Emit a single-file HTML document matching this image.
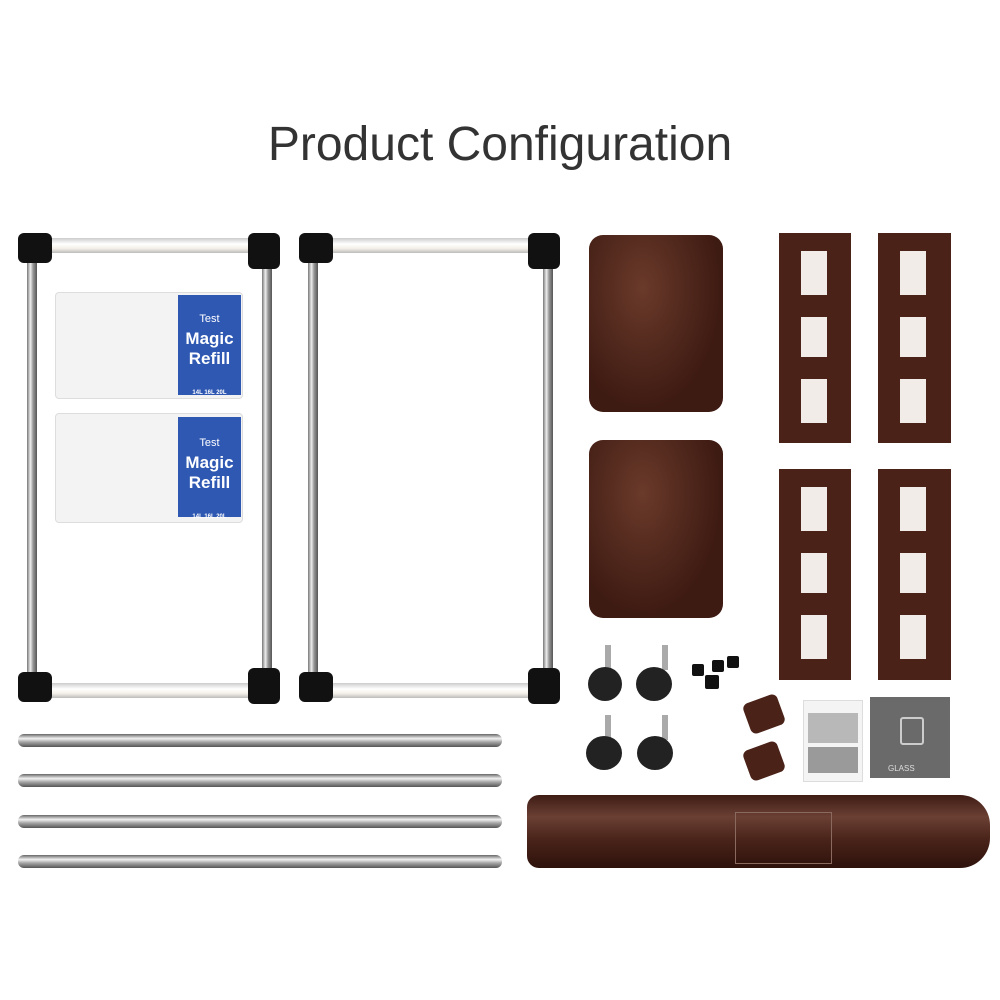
<!DOCTYPE html>
<html><head><meta charset="utf-8"><style>
body{margin:0;width:1000px;height:1000px;background:#fff;position:relative;overflow:hidden;font-family:"Liberation Sans",sans-serif}
.a{position:absolute}
.title{left:0;width:1000px;top:117px;text-align:center;font-size:48px;color:#333}
.vr{background:linear-gradient(90deg,#777,#eee 35%,#999 60%,#555)}
.hr{background:linear-gradient(180deg,#666,#f2f2f2 35%,#aaa 60%,#555);border-radius:6px}
.wt{background:linear-gradient(180deg,#ccc,#fff 40%,#f4f0e8 70%,#bbb)}
.cn{background:#111;border-radius:6px}
.bag{background:#f3f3f3;border:1px solid #ddd;border-radius:4px}
.lbl{background:#2f58b3;color:#fff;text-align:center;font-weight:bold}
.lid{background:radial-gradient(ellipse at 40% 30%,#6a3a2a,#3d1a12 70%);border-radius:14px}
.lad{background:#4a2218}
.hole{background:#fff;position:absolute}
.wh{background:#222;border-radius:50%}
</style></head><body>
<div class="a title">Product Configuration</div>

<div class="a vr" style="left:27px;top:245px;width:10px;height:448px"></div>
<div class="a vr" style="left:262px;top:245px;width:10px;height:448px"></div>
<div class="a wt" style="left:45px;top:238px;width:210px;height:15px"></div>
<div class="a wt" style="left:45px;top:683px;width:210px;height:15px"></div>
<div class="a cn" style="left:18px;top:233px;width:34px;height:30px"></div>
<div class="a cn" style="left:248px;top:233px;width:32px;height:36px"></div>
<div class="a cn" style="left:18px;top:672px;width:34px;height:30px"></div>
<div class="a cn" style="left:248px;top:668px;width:32px;height:36px"></div>
<div class="a vr" style="left:308px;top:245px;width:10px;height:448px"></div>
<div class="a vr" style="left:543px;top:245px;width:10px;height:448px"></div>
<div class="a wt" style="left:326px;top:238px;width:210px;height:15px"></div>
<div class="a wt" style="left:326px;top:683px;width:210px;height:15px"></div>
<div class="a cn" style="left:299px;top:233px;width:34px;height:30px"></div>
<div class="a cn" style="left:528px;top:233px;width:32px;height:36px"></div>
<div class="a cn" style="left:299px;top:672px;width:34px;height:30px"></div>
<div class="a cn" style="left:528px;top:668px;width:32px;height:36px"></div>

<div class="a bag" style="left:55px;top:292px;width:186px;height:105px"></div>
<div class="a lbl" style="left:178px;top:295px;width:63px;height:100px;font-size:17px;line-height:20px;padding-top:12px;box-sizing:border-box"><span style="font-size:11px;font-weight:normal">Test</span><br>Magic<br>Refill<div style="font-size:6px;margin-top:14px">14L 16L 20L</div></div>
<div class="a bag" style="left:55px;top:413px;width:186px;height:108px"></div>
<div class="a lbl" style="left:178px;top:417px;width:63px;height:100px;font-size:17px;line-height:20px;padding-top:14px;box-sizing:border-box"><span style="font-size:11px;font-weight:normal">Test</span><br>Magic<br>Refill<div style="font-size:6px;margin-top:14px">14L 16L 20L</div></div>

<div class="a lid" style="left:589px;top:235px;width:134px;height:177px"></div>
<div class="a lid" style="left:589px;top:440px;width:134px;height:178px"></div>

<div class="a lad" style="left:779px;top:233px;width:72px;height:210px"><div class="hole" style="left:22px;top:18px;width:26px;height:44px;background:#f2ece8"></div><div class="hole" style="left:22px;top:84px;width:26px;height:40px;background:#f2ece8"></div><div class="hole" style="left:22px;top:146px;width:26px;height:44px;background:#f2ece8"></div></div>
<div class="a lad" style="left:878px;top:233px;width:73px;height:210px"><div class="hole" style="left:22px;top:18px;width:26px;height:44px;background:#f2ece8"></div><div class="hole" style="left:22px;top:84px;width:26px;height:40px;background:#f2ece8"></div><div class="hole" style="left:22px;top:146px;width:26px;height:44px;background:#f2ece8"></div></div>
<div class="a lad" style="left:779px;top:469px;width:72px;height:211px"><div class="hole" style="left:22px;top:18px;width:26px;height:44px;background:#f2ece8"></div><div class="hole" style="left:22px;top:84px;width:26px;height:40px;background:#f2ece8"></div><div class="hole" style="left:22px;top:146px;width:26px;height:44px;background:#f2ece8"></div></div>
<div class="a lad" style="left:878px;top:469px;width:73px;height:211px"><div class="hole" style="left:22px;top:18px;width:26px;height:44px;background:#f2ece8"></div><div class="hole" style="left:22px;top:84px;width:26px;height:40px;background:#f2ece8"></div><div class="hole" style="left:22px;top:146px;width:26px;height:44px;background:#f2ece8"></div></div>

<div class="a" style="left:605px;top:645px;width:6px;height:25px;background:#aaa"></div>
<div class="a wh" style="left:588px;top:667px;width:34px;height:34px"></div>
<div class="a" style="left:662px;top:645px;width:6px;height:25px;background:#aaa"></div>
<div class="a wh" style="left:636px;top:667px;width:36px;height:34px"></div>
<div class="a" style="left:605px;top:715px;width:6px;height:25px;background:#aaa"></div>
<div class="a wh" style="left:586px;top:736px;width:36px;height:34px"></div>
<div class="a" style="left:662px;top:715px;width:6px;height:25px;background:#aaa"></div>
<div class="a wh" style="left:637px;top:736px;width:36px;height:34px"></div>
<div class="a" style="left:692px;top:664px;width:12px;height:12px;background:#111;border-radius:2px"></div>
<div class="a" style="left:712px;top:660px;width:12px;height:12px;background:#111;border-radius:2px"></div>
<div class="a" style="left:727px;top:656px;width:12px;height:12px;background:#111;border-radius:2px"></div>
<div class="a" style="left:705px;top:675px;width:14px;height:14px;background:#111;border-radius:2px"></div>
<div class="a" style="left:746px;top:698px;width:36px;height:32px;background:#4a2218;border-radius:6px;transform:rotate(-20deg)"></div>
<div class="a" style="left:746px;top:745px;width:36px;height:32px;background:#4a2218;border-radius:6px;transform:rotate(-20deg)"></div>
<div class="a" style="left:803px;top:700px;width:58px;height:80px;background:#f4f4f4;border:1px solid #ddd"><div style="margin:12px 4px 0;height:30px;background:#b8b8b8"></div><div style="margin:4px 4px;height:26px;background:#9a9a9a"></div></div>
<div class="a" style="left:870px;top:697px;width:80px;height:81px;background:#6a6a6a;color:#ddd;font-size:8px"><div style="position:absolute;left:30px;top:20px;width:20px;height:24px;border:2px solid #ccc;border-radius:3px"></div><div style="position:absolute;left:18px;top:67px">GLASS</div></div>

<div class="a hr" style="left:18px;top:734px;width:484px;height:13px"></div>
<div class="a hr" style="left:18px;top:774px;width:484px;height:13px"></div>
<div class="a hr" style="left:18px;top:815px;width:484px;height:13px"></div>
<div class="a hr" style="left:18px;top:855px;width:484px;height:13px"></div>

<div class="a" style="left:527px;top:795px;width:463px;height:73px;border-radius:12px 30px 30px 12px;background:linear-gradient(180deg,#3e1c14,#6b4034 30%,#4a241a 60%,#2e120c)"></div>
<div class="a" style="left:735px;top:812px;width:95px;height:50px;border:1px solid #8a6a5e"></div>
</body></html>
